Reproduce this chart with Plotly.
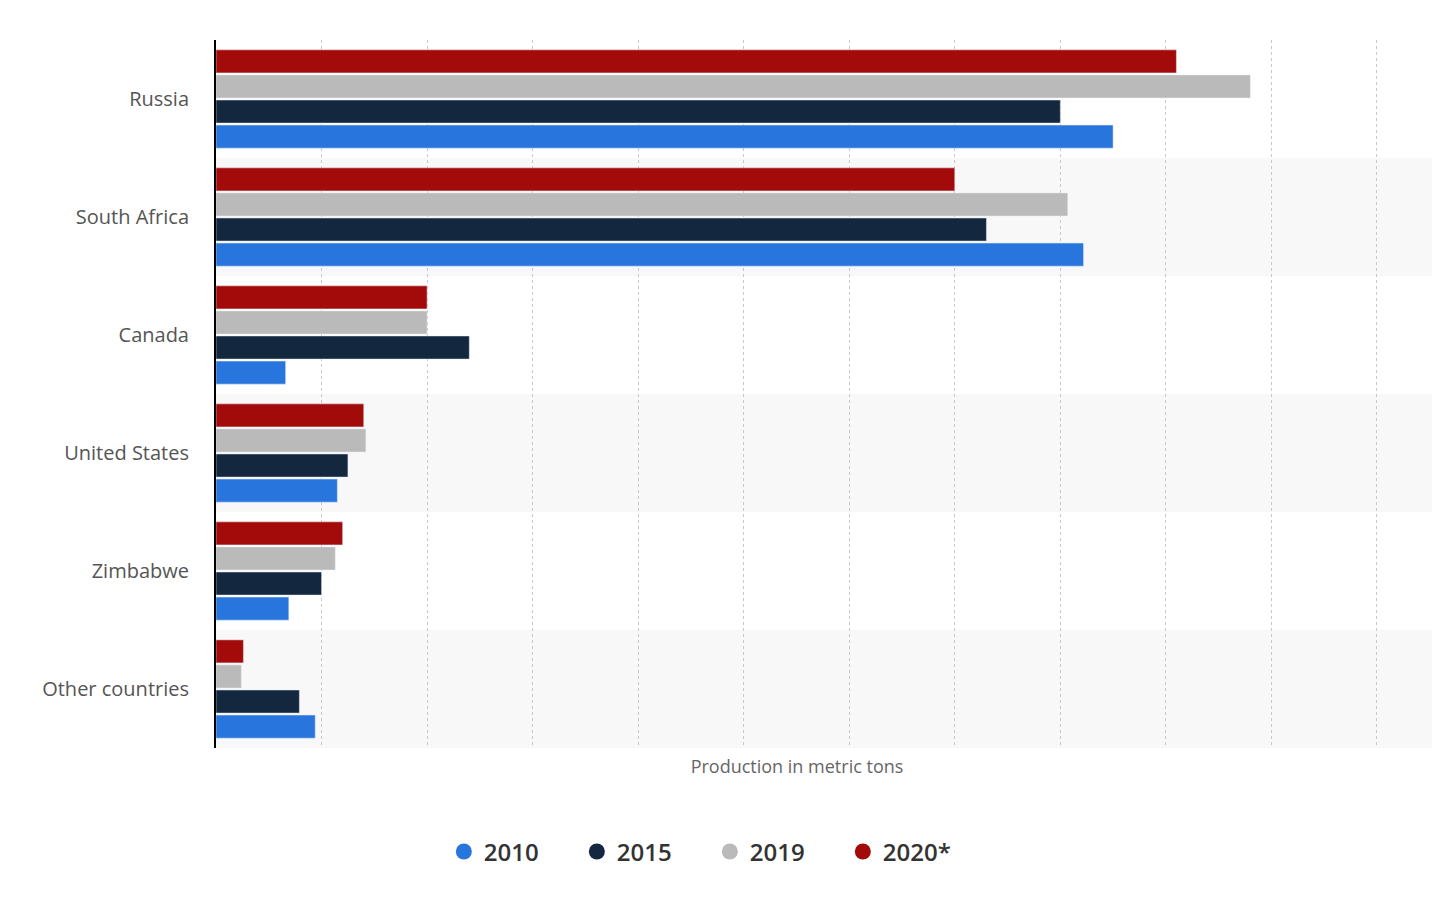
import plotly.graph_objects as go

countries = ["Russia", "South Africa", "Canada", "United States", "Zimbabwe", "Other countries"]
years = ["2010", "2015", "2019", "2020*"]
colors = ["#2876dd", "#13273f", "#bababa", "#a30b0b"]
v2010 = [85, 82.2, 6.6, 11.5, 6.9, 9.4]
v2015 = [80, 73, 24, 12.5, 10, 7.9]
v2019 = [98, 80.7, 20, 14.2, 11.3, 2.4]
v2020 = [91, 70, 20, 14, 12, 2.6]
series = [v2010, v2015, v2019, v2020]

fig = go.Figure()
# reversed y axis: add last year first so 2020 sits on top of each group
for name, vals, col in reversed(list(zip(years, series, colors))):
    fig.add_trace(go.Bar(y=countries, x=vals, orientation="h", marker_color=col,
                         name=name, showlegend=False))
for name, col in zip(years, colors):
    fig.add_trace(go.Scatter(x=[None], y=[None], mode="markers", name=name,
                             marker=dict(color=col, size=24, symbol="circle")))

# alternating row shading
for i, c in enumerate(countries):
    if i % 2 == 1:
        fig.add_shape(type="rect", xref="paper", yref="y", x0=0, x1=1240 / 1160,
                      y0=i - 0.5, y1=i + 0.5, fillcolor="#f8f8f8", line_width=0,
                      layer="below")

fig.update_layout(
    width=1440, height=900,
    margin=dict(l=208, r=70, t=32, b=160),
    plot_bgcolor="white", paper_bgcolor="white",
    barmode="group", bargap=0.15, bargroupgap=0.08,
    font=dict(family="Open Sans, sans-serif"),
    legend=dict(orientation="h", x=0.425, xanchor="center", y=-0.115, yanchor="top",
                font=dict(size=24, color="#333", weight=600), itemsizing="trace",
                entrywidth=88),
)
fig.update_xaxes(range=[0, 110.1], dtick=10, showticklabels=False, showgrid=True,
                 gridcolor="#c8c8c8", griddash="dot", zeroline=False, automargin=False,
                 title=dict(text="Production in metric tons", font=dict(size=18, color="#666"),
                            standoff=12))
fig.update_yaxes(autorange="reversed", showline=True, linecolor="#000", linewidth=2,
                 automargin=False, tickfont=dict(size=20, color="#555"), ticks="",
                 ticklabelstandoff=21)

fig.write_html("out.html")
